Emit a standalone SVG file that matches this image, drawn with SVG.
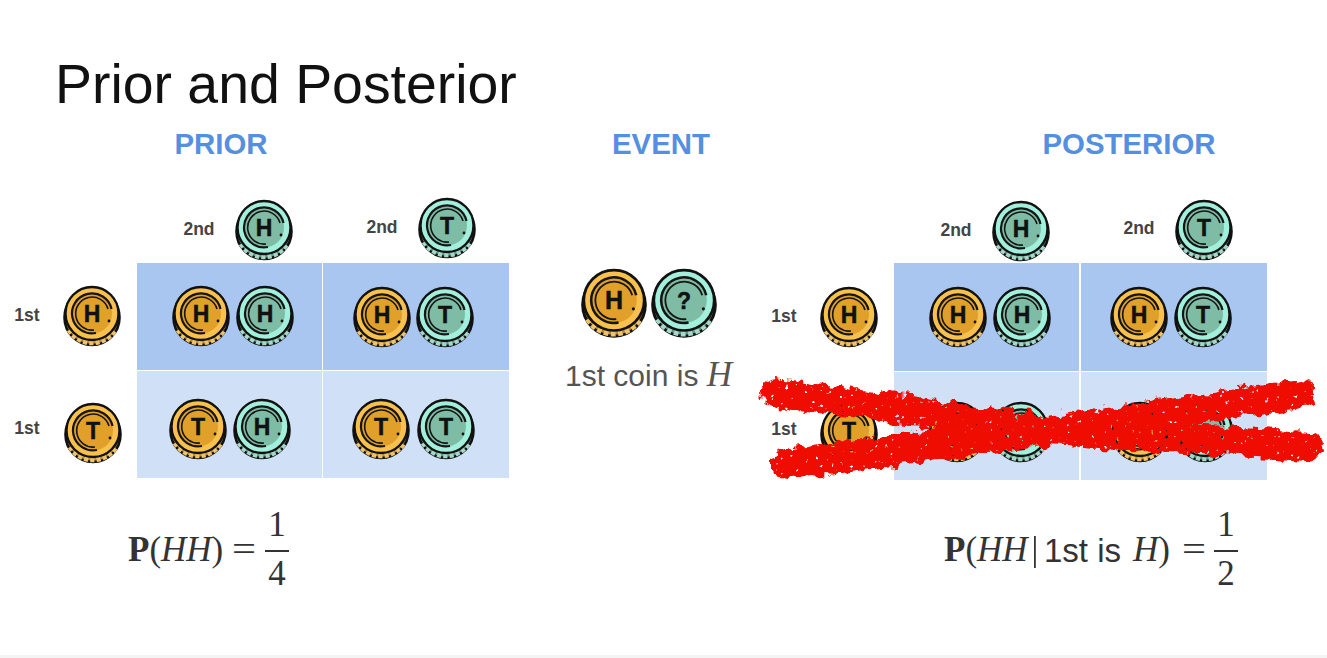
<svg xmlns="http://www.w3.org/2000/svg" width="1327" height="658" viewBox="0 0 1327 658">
<style>
.sans{font-family:"Liberation Sans",Arial,sans-serif}
.serif{font-family:"Liberation Serif","Times New Roman",serif}
.title{font-size:55.4px;fill:#111}
.hd{font-size:29.4px;font-weight:700;fill:#5590e0;text-anchor:middle}
.lb{font-size:17.5px;font-weight:700;fill:#444;text-anchor:middle}
.cl{font-size:23px;font-weight:700;fill:#111;stroke:#111;stroke-width:.5;text-anchor:middle;font-family:"Liberation Sans",Arial,sans-serif}
.f{font-size:35px;fill:#333}
.i{font-style:italic}
.b{font-weight:700}
.arc{fill:none;stroke:#151515}
</style>
<defs>
<g id="coinG">
<ellipse cx="0" cy="2.5" rx="27.5" ry="27.5" fill="#b98a35" stroke="#111" stroke-width="2.6"/>
<path d="M-23 15 A27 27 0 0 0 23 15" fill="none" stroke="#efc36a" stroke-width="5" stroke-dasharray="4 2.2"/>
<circle cx="0" cy="-1.5" r="26.5" fill="#f8c04c" stroke="#111" stroke-width="2.4"/>
<circle cx="0" cy="-1.5" r="20" fill="#e0a02a"/>
<path class="arc" stroke-width="2.2" d="M4 18 A20 20 0 1 1 19.5 -6"/>
<path class="arc" stroke-width="1.6" d="M2 15 A16.5 16.5 0 1 1 16 -6"/>
<circle cx="17" cy="6" r="1.4" fill="#111"/>
</g>
<g id="coinT">
<ellipse cx="0" cy="2.5" rx="27.5" ry="27.5" fill="#5f9584" stroke="#111" stroke-width="2.6"/>
<path d="M-23 15 A27 27 0 0 0 23 15" fill="none" stroke="#a5d8c8" stroke-width="5" stroke-dasharray="4 2.2"/>
<circle cx="0" cy="-1.5" r="26.5" fill="#a2f0db" stroke="#111" stroke-width="2.4"/>
<circle cx="0" cy="-1.5" r="20" fill="#7fbca6"/>
<path class="arc" stroke-width="2.2" d="M4 18 A20 20 0 1 1 19.5 -6"/>
<path class="arc" stroke-width="1.6" d="M2 15 A16.5 16.5 0 1 1 16 -6"/>
<circle cx="17" cy="6" r="1.4" fill="#111"/>
</g>
<filter id="rough" filterUnits="userSpaceOnUse" x="730" y="350" width="597" height="150">
<feTurbulence type="fractalNoise" baseFrequency="0.08" numOctaves="3" seed="4" result="n"/>
<feDisplacementMap in="SourceGraphic" in2="n" scale="16" xChannelSelector="R" yChannelSelector="G" result="d"/>
<feTurbulence type="fractalNoise" baseFrequency="0.2" numOctaves="2" seed="9"/>
<feColorMatrix values="0 0 0 0 0 0 0 0 0 0 0 0 0 0 0 12 0 0 0 -2.6"/>
<feComposite in="d" operator="in"/>
</filter>
</defs>
<rect width="1327" height="658" fill="#fff"/>
<rect y="655" width="1327" height="3" fill="#f4f4f4"/>
<text class="sans title" x="55" y="103">Prior and Posterior</text>
<text class="sans hd" x="221" y="154">PRIOR</text>
<text class="sans hd" x="661" y="154">EVENT</text>
<text class="sans hd" x="1129" y="154">POSTERIOR</text>

<g id="prior-table">
<rect x="137" y="263" width="185" height="107" fill="#a9c6f0"/>
<rect x="323" y="263" width="186" height="107" fill="#a9c6f0"/>
<rect x="137" y="371" width="185" height="107" fill="#d0e0f7"/>
<rect x="323" y="371" width="186" height="107" fill="#d0e0f7"/>
</g>
<g id="posterior-table">
<rect x="894" y="263" width="185" height="108" fill="#a9c6f0"/>
<rect x="1081" y="263" width="186" height="108" fill="#a9c6f0"/>
<rect x="894" y="372" width="185" height="108" fill="#d0e0f7"/>
<rect x="1081" y="372" width="186" height="108" fill="#d0e0f7"/>
</g>

<g id="prior-headers">
<text class="sans lb" x="199" y="235">2nd</text>
<use href="#coinT" x="264" y="229"/><text class="cl" x="264" y="236">H</text>
<text class="sans lb" x="382" y="233">2nd</text>
<use href="#coinT" x="447" y="227"/><text class="cl" x="447" y="234">T</text>
<text class="sans lb" x="27" y="321">1st</text>
<use href="#coinG" x="92" y="315"/><text class="cl" x="92" y="322">H</text>
<text class="sans lb" x="27" y="434">1st</text>
<use href="#coinG" x="93" y="432"/><text class="cl" x="93" y="439">T</text>
</g>
<g id="prior-cells">
<use href="#coinG" x="201" y="315"/><text class="cl" x="201" y="322">H</text>
<use href="#coinT" x="265" y="315"/><text class="cl" x="265" y="322">H</text>
<use href="#coinG" x="382" y="316"/><text class="cl" x="382" y="323">H</text>
<use href="#coinT" x="445" y="316"/><text class="cl" x="445" y="323">T</text>
<use href="#coinG" x="198" y="428"/><text class="cl" x="198" y="435">T</text>
<use href="#coinT" x="262" y="428"/><text class="cl" x="262" y="435">H</text>
<use href="#coinG" x="381" y="428"/><text class="cl" x="381" y="435">T</text>
<use href="#coinT" x="446" y="428"/><text class="cl" x="446" y="435">T</text>
</g>
<g id="event">
<use href="#coinG" transform="translate(614 302) scale(1.14)"/><text class="cl" x="614" y="309" style="font-size:25px">H</text>
<use href="#coinT" transform="translate(684 302) scale(1.14)"/><text class="cl" x="684" y="309">?</text>
<text class="sans" x="565" y="386" font-size="30" fill="#555">1st coin is <tspan class="serif i" font-size="35">H</tspan></text>
</g>
<g id="posterior-headers">
<text class="sans lb" x="956" y="236">2nd</text>
<use href="#coinT" x="1021" y="230"/><text class="cl" x="1021" y="237">H</text>
<text class="sans lb" x="1139" y="234">2nd</text>
<use href="#coinT" x="1204" y="229"/><text class="cl" x="1204" y="236">T</text>
<text class="sans lb" x="784" y="322">1st</text>
<use href="#coinG" x="849" y="316"/><text class="cl" x="849" y="323">H</text>
<text class="sans lb" x="784" y="435">1st</text>
<use href="#coinG" x="849" y="432"/><text class="cl" x="849" y="439">T</text>
</g>
<g id="posterior-cells">
<use href="#coinG" x="958" y="316"/><text class="cl" x="958" y="323">H</text>
<use href="#coinT" x="1022" y="316"/><text class="cl" x="1022" y="323">H</text>
<use href="#coinG" x="1139" y="316"/><text class="cl" x="1139" y="323">H</text>
<use href="#coinT" x="1203" y="316"/><text class="cl" x="1203" y="323">T</text>
<use href="#coinG" x="957" y="431"/>
<use href="#coinT" x="1021" y="431"/>
<use href="#coinG" x="1140" y="431"/>
<use href="#coinT" x="1205" y="431"/>
</g>
<g id="cross-out" filter="url(#rough)" fill="none" stroke="#ee0f06" stroke-width="30" stroke-linecap="round" stroke-linejoin="round">
<path d="M776 392 L918 412 L1048 431 L1308 446"/>
<path d="M786 464 L928 446 L1048 431 L1300 394"/>
</g>
<g id="formula-prior" class="serif f">
<text x="128" y="561"><tspan class="b">P</tspan>(<tspan class="i">HH</tspan>)</text>
<text x="232" y="561" textLength="24" lengthAdjust="spacingAndGlyphs">=</text>
<text x="277" y="536" text-anchor="middle">1</text>
<rect x="265" y="550" width="24" height="2" fill="#333"/>
<text x="277" y="585" text-anchor="middle">4</text>
</g>
<g id="formula-posterior" class="serif f">
<text x="944" y="561"><tspan class="b">P</tspan>(<tspan class="i">HH</tspan></text>
<rect x="1034" y="536" width="1.8" height="32" fill="#333"/>
<text x="1044" y="562" class="sans" style="font-size:33px">1st is</text>
<text x="1133" y="561"><tspan class="i">H</tspan>)</text>
<text x="1182" y="561" textLength="24" lengthAdjust="spacingAndGlyphs">=</text>
<text x="1226" y="536" text-anchor="middle">1</text>
<rect x="1214" y="550" width="24" height="2" fill="#333"/>
<text x="1226" y="585" text-anchor="middle">2</text>
</g>
</svg>
